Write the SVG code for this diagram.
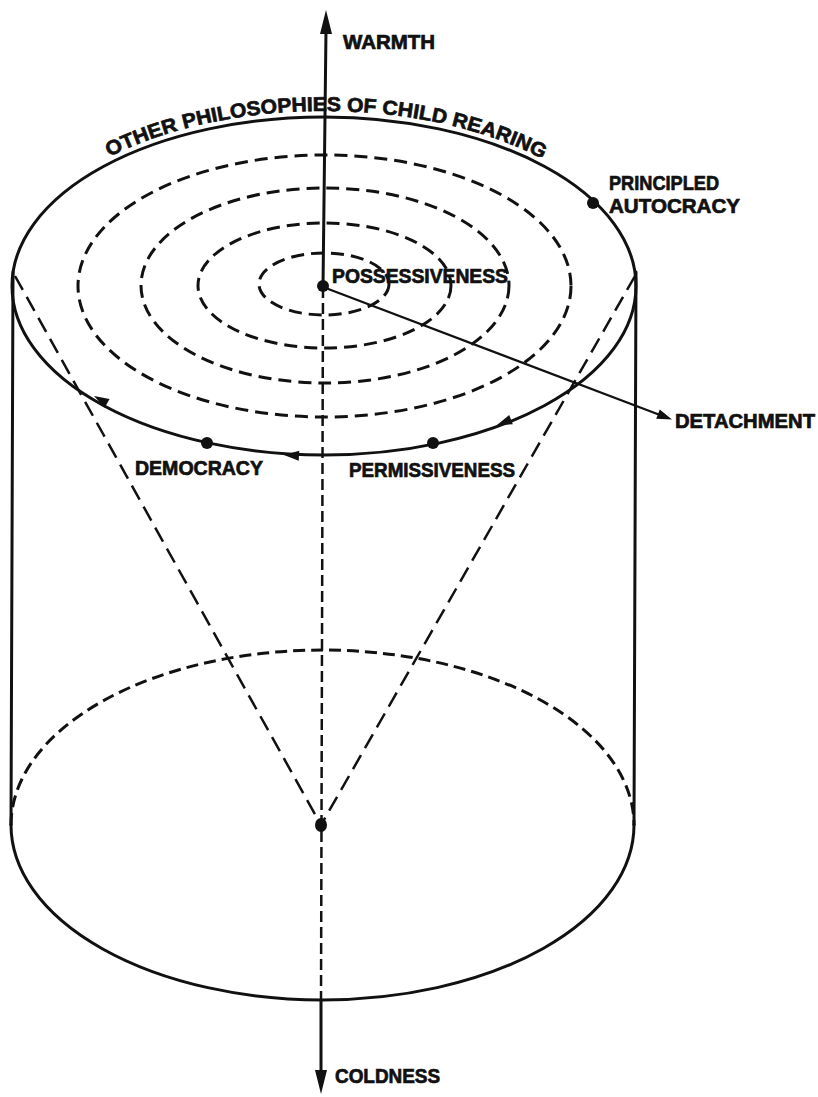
<svg xmlns="http://www.w3.org/2000/svg" width="818" height="1097" viewBox="0 0 818 1097">
<defs>
<style>
.s{fill:none;stroke:#111;stroke-width:3;stroke-linecap:round}
.thin{fill:none;stroke:#111;stroke-width:2.2}
.ring{fill:none;stroke:#111;stroke-width:3;stroke-dasharray:13 7}
.cone{fill:none;stroke:#111;stroke-width:2.5;stroke-dasharray:16 8}
.adash{fill:none;stroke:#111;stroke-width:2.5;stroke-dasharray:11 5}
.bdash{fill:none;stroke:#111;stroke-width:3;stroke-dasharray:12 6}
.dot{fill:#111}
.lbl{font-family:"Liberation Sans",Arial,sans-serif;font-weight:bold;font-size:20px;fill:#111;stroke:#111;stroke-width:0.7}
</style>
<path id="head" d="M0,0 L-15,-5 L-15,5 Z" fill="#111"/>
<path id="bighead" d="M0,0 L-24,-6 L-24,6 Z" fill="#111"/>
<path id="arcText" d="M6,286 A318 175 0 0 1 642,286"/>
</defs>
<rect width="818" height="1097" fill="#fff"/>

<g id="cylinder">
<line class="s" x1="13" y1="272" x2="11" y2="825"/>
<line class="s" x1="636" y1="272" x2="634" y2="825"/>
<path class="bdash" d="M11,825 A311.5 175 0 0 1 634,825"/>
<path class="s" d="M634,825 A311.5 175 0 0 1 11,825"/>
</g>

<g id="top-surface">
<ellipse class="s" cx="324" cy="286" rx="312" ry="169"/>
<ellipse class="ring" cx="324" cy="284" rx="65" ry="31"/>
<ellipse class="ring" cx="324.5" cy="285.5" rx="126.5" ry="62.5"/>
<ellipse class="ring" cx="325" cy="285.5" rx="184" ry="97.5"/>
<ellipse class="ring" cx="324.5" cy="286" rx="246.5" ry="131"/>
</g>

<g id="cone">
<line class="cone" x1="15" y1="276" x2="321" y2="825"/>
<line class="cone" x1="635" y1="276" x2="321" y2="825"/>
</g>

<g id="connectors">
<line class="s" x1="326" y1="30" x2="323" y2="287"/>
<use href="#bighead" transform="translate(326,10) rotate(-90)"/>
<line class="adash" x1="323" y1="287" x2="321" y2="1000"/>
<line class="s" x1="321" y1="1000" x2="321" y2="1072"/>
<use href="#bighead" transform="translate(321,1094) rotate(90)"/>
<line class="thin" x1="323" y1="287" x2="660" y2="415"/>
<use href="#head" transform="translate(672,419.5) rotate(20.8)"/>
<use href="#head" transform="translate(497,425) rotate(159)"/>
<use href="#head" transform="translate(284,455) rotate(183)"/>
<use href="#head" transform="translate(94,396) rotate(209)"/>
</g>

<g id="warmth"><text class="lbl" x="343" y="49" font-size="21" textLength="92" lengthAdjust="spacingAndGlyphs">WARMTH</text></g>
<g id="coldness"><text class="lbl" x="335" y="1083" font-size="21" textLength="105" lengthAdjust="spacingAndGlyphs">COLDNESS</text></g>
<g id="other-philosophies"><text class="lbl" font-size="20"><textPath href="#arcText" startOffset="174" textLength="447" lengthAdjust="spacingAndGlyphs">OTHER PHILOSOPHIES OF CHILD REARING</textPath></text></g>
<g id="principled-autocracy">
<circle class="dot" cx="593" cy="203" r="6"/>
<text class="lbl" x="609" y="190" textLength="110" lengthAdjust="spacingAndGlyphs">PRINCIPLED</text>
<text class="lbl" x="609" y="213" textLength="131" lengthAdjust="spacingAndGlyphs">AUTOCRACY</text>
</g>
<g id="possessiveness">
<circle class="dot" cx="323" cy="286" r="6"/>
<text class="lbl" x="332" y="283" textLength="176" lengthAdjust="spacingAndGlyphs">POSSESSIVENESS</text>
</g>
<g id="detachment"><text class="lbl" x="675" y="428" textLength="140" lengthAdjust="spacingAndGlyphs">DETACHMENT</text></g>
<g id="democracy">
<circle class="dot" cx="207" cy="443" r="6"/>
<text class="lbl" x="135" y="475" textLength="128" lengthAdjust="spacingAndGlyphs">DEMOCRACY</text>
</g>
<g id="permissiveness">
<circle class="dot" cx="433" cy="443" r="6"/>
<text class="lbl" x="349" y="477" textLength="166" lengthAdjust="spacingAndGlyphs">PERMISSIVENESS</text>
</g>
<g id="apex"><ellipse class="dot" cx="321" cy="825" rx="6" ry="7"/></g>
</svg>
